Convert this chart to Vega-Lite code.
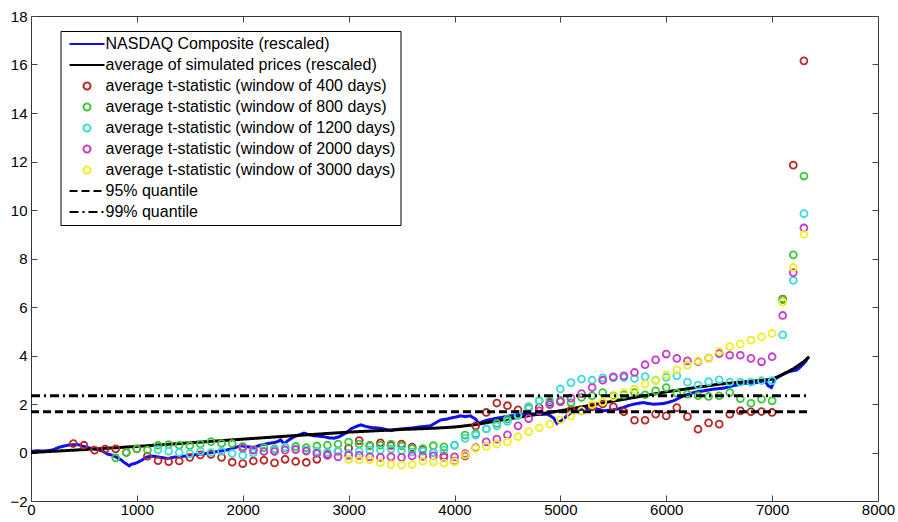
{
  "$schema": "https://vega.github.io/schema/vega-lite/v6.json",
  "width": 847,
  "height": 485,
  "autosize": {"type": "none"},
  "padding": {"left": 31, "top": 16, "right": 20, "bottom": 21},
  "background": "white",
  "config": {
    "font": "Liberation Sans",
    "view": {"stroke": "#333", "strokeWidth": 1},
    "axis": {"domain": false, "grid": false, "tickSize": -6, "tickColor": "#444", "labelFontSize": 15, "labelColor": "#000", "labelFont": "Liberation Sans"},
    "legend": {"labelFont": "Liberation Sans", "labelFontSize": 16, "labelColor": "#000", "labelLimit": 0, "symbolSize": 49, "symbolStrokeWidth": 2, "rowPadding": 5, "padding": 5, "strokeColor": "#000", "fillColor": "white", "symbolOffset": 13.5, "labelOffset": 10.5}
  },
  "datasets": {
    "lines": [
      {"series": "NASDAQ Composite (rescaled)", "day": 0, "value": 0.05},
      {"series": "NASDAQ Composite (rescaled)", "day": 60, "value": 0.07},
      {"series": "NASDAQ Composite (rescaled)", "day": 125, "value": 0.06},
      {"series": "NASDAQ Composite (rescaled)", "day": 200, "value": 0.1},
      {"series": "NASDAQ Composite (rescaled)", "day": 267, "value": 0.22},
      {"series": "NASDAQ Composite (rescaled)", "day": 300, "value": 0.25},
      {"series": "NASDAQ Composite (rescaled)", "day": 346, "value": 0.3},
      {"series": "NASDAQ Composite (rescaled)", "day": 400, "value": 0.32},
      {"series": "NASDAQ Composite (rescaled)", "day": 440, "value": 0.33},
      {"series": "NASDAQ Composite (rescaled)", "day": 500, "value": 0.25},
      {"series": "NASDAQ Composite (rescaled)", "day": 535, "value": 0.2},
      {"series": "NASDAQ Composite (rescaled)", "day": 600, "value": 0.15},
      {"series": "NASDAQ Composite (rescaled)", "day": 630, "value": 0.12},
      {"series": "NASDAQ Composite (rescaled)", "day": 680, "value": 0.05},
      {"series": "NASDAQ Composite (rescaled)", "day": 723, "value": -0.07},
      {"series": "NASDAQ Composite (rescaled)", "day": 760, "value": -0.1},
      {"series": "NASDAQ Composite (rescaled)", "day": 800, "value": -0.18},
      {"series": "NASDAQ Composite (rescaled)", "day": 850, "value": -0.3},
      {"series": "NASDAQ Composite (rescaled)", "day": 880, "value": -0.41},
      {"series": "NASDAQ Composite (rescaled)", "day": 928, "value": -0.55},
      {"series": "NASDAQ Composite (rescaled)", "day": 950, "value": -0.48},
      {"series": "NASDAQ Composite (rescaled)", "day": 975, "value": -0.46},
      {"series": "NASDAQ Composite (rescaled)", "day": 1000, "value": -0.42},
      {"series": "NASDAQ Composite (rescaled)", "day": 1038, "value": -0.34},
      {"series": "NASDAQ Composite (rescaled)", "day": 1070, "value": -0.25},
      {"series": "NASDAQ Composite (rescaled)", "day": 1100, "value": -0.18},
      {"series": "NASDAQ Composite (rescaled)", "day": 1150, "value": -0.15},
      {"series": "NASDAQ Composite (rescaled)", "day": 1195, "value": -0.18},
      {"series": "NASDAQ Composite (rescaled)", "day": 1250, "value": -0.22},
      {"series": "NASDAQ Composite (rescaled)", "day": 1290, "value": -0.25},
      {"series": "NASDAQ Composite (rescaled)", "day": 1340, "value": -0.2},
      {"series": "NASDAQ Composite (rescaled)", "day": 1384, "value": -0.18},
      {"series": "NASDAQ Composite (rescaled)", "day": 1430, "value": -0.16},
      {"series": "NASDAQ Composite (rescaled)", "day": 1478, "value": -0.14},
      {"series": "NASDAQ Composite (rescaled)", "day": 1540, "value": -0.1},
      {"series": "NASDAQ Composite (rescaled)", "day": 1604, "value": -0.07},
      {"series": "NASDAQ Composite (rescaled)", "day": 1680, "value": -0.02},
      {"series": "NASDAQ Composite (rescaled)", "day": 1761, "value": 0.04},
      {"series": "NASDAQ Composite (rescaled)", "day": 1820, "value": 0.08},
      {"series": "NASDAQ Composite (rescaled)", "day": 1887, "value": 0.14},
      {"series": "NASDAQ Composite (rescaled)", "day": 1940, "value": 0.22},
      {"series": "NASDAQ Composite (rescaled)", "day": 1981, "value": 0.28},
      {"series": "NASDAQ Composite (rescaled)", "day": 2040, "value": 0.24},
      {"series": "NASDAQ Composite (rescaled)", "day": 2107, "value": 0.2},
      {"series": "NASDAQ Composite (rescaled)", "day": 2150, "value": 0.28},
      {"series": "NASDAQ Composite (rescaled)", "day": 2201, "value": 0.34},
      {"series": "NASDAQ Composite (rescaled)", "day": 2250, "value": 0.38},
      {"series": "NASDAQ Composite (rescaled)", "day": 2296, "value": 0.41},
      {"series": "NASDAQ Composite (rescaled)", "day": 2330, "value": 0.45},
      {"series": "NASDAQ Composite (rescaled)", "day": 2358, "value": 0.52},
      {"series": "NASDAQ Composite (rescaled)", "day": 2390, "value": 0.36},
      {"series": "NASDAQ Composite (rescaled)", "day": 2430, "value": 0.5},
      {"series": "NASDAQ Composite (rescaled)", "day": 2484, "value": 0.65},
      {"series": "NASDAQ Composite (rescaled)", "day": 2530, "value": 0.72},
      {"series": "NASDAQ Composite (rescaled)", "day": 2579, "value": 0.8},
      {"series": "NASDAQ Composite (rescaled)", "day": 2620, "value": 0.74},
      {"series": "NASDAQ Composite (rescaled)", "day": 2673, "value": 0.69},
      {"series": "NASDAQ Composite (rescaled)", "day": 2720, "value": 0.67},
      {"series": "NASDAQ Composite (rescaled)", "day": 2767, "value": 0.65},
      {"series": "NASDAQ Composite (rescaled)", "day": 2820, "value": 0.6},
      {"series": "NASDAQ Composite (rescaled)", "day": 2862, "value": 0.59},
      {"series": "NASDAQ Composite (rescaled)", "day": 2910, "value": 0.65},
      {"series": "NASDAQ Composite (rescaled)", "day": 2956, "value": 0.76},
      {"series": "NASDAQ Composite (rescaled)", "day": 2990, "value": 0.85},
      {"series": "NASDAQ Composite (rescaled)", "day": 3019, "value": 0.97},
      {"series": "NASDAQ Composite (rescaled)", "day": 3060, "value": 1.05},
      {"series": "NASDAQ Composite (rescaled)", "day": 3113, "value": 1.14},
      {"series": "NASDAQ Composite (rescaled)", "day": 3160, "value": 1.08},
      {"series": "NASDAQ Composite (rescaled)", "day": 3208, "value": 1.03},
      {"series": "NASDAQ Composite (rescaled)", "day": 3250, "value": 1.02},
      {"series": "NASDAQ Composite (rescaled)", "day": 3302, "value": 1.0},
      {"series": "NASDAQ Composite (rescaled)", "day": 3350, "value": 0.95},
      {"series": "NASDAQ Composite (rescaled)", "day": 3396, "value": 0.9},
      {"series": "NASDAQ Composite (rescaled)", "day": 3440, "value": 0.94},
      {"series": "NASDAQ Composite (rescaled)", "day": 3491, "value": 0.97},
      {"series": "NASDAQ Composite (rescaled)", "day": 3540, "value": 0.99},
      {"series": "NASDAQ Composite (rescaled)", "day": 3585, "value": 1.0},
      {"series": "NASDAQ Composite (rescaled)", "day": 3630, "value": 1.03},
      {"series": "NASDAQ Composite (rescaled)", "day": 3679, "value": 1.06},
      {"series": "NASDAQ Composite (rescaled)", "day": 3730, "value": 1.08},
      {"series": "NASDAQ Composite (rescaled)", "day": 3774, "value": 1.1},
      {"series": "NASDAQ Composite (rescaled)", "day": 3820, "value": 1.22},
      {"series": "NASDAQ Composite (rescaled)", "day": 3868, "value": 1.34},
      {"series": "NASDAQ Composite (rescaled)", "day": 3931, "value": 1.38},
      {"series": "NASDAQ Composite (rescaled)", "day": 3962, "value": 1.42},
      {"series": "NASDAQ Composite (rescaled)", "day": 4000, "value": 1.45},
      {"series": "NASDAQ Composite (rescaled)", "day": 4057, "value": 1.51},
      {"series": "NASDAQ Composite (rescaled)", "day": 4100, "value": 1.48},
      {"series": "NASDAQ Composite (rescaled)", "day": 4151, "value": 1.51},
      {"series": "NASDAQ Composite (rescaled)", "day": 4198, "value": 1.38},
      {"series": "NASDAQ Composite (rescaled)", "day": 4230, "value": 1.2},
      {"series": "NASDAQ Composite (rescaled)", "day": 4270, "value": 1.28},
      {"series": "NASDAQ Composite (rescaled)", "day": 4308, "value": 1.33},
      {"series": "NASDAQ Composite (rescaled)", "day": 4350, "value": 1.37},
      {"series": "NASDAQ Composite (rescaled)", "day": 4402, "value": 1.42},
      {"series": "NASDAQ Composite (rescaled)", "day": 4450, "value": 1.45},
      {"series": "NASDAQ Composite (rescaled)", "day": 4496, "value": 1.49},
      {"series": "NASDAQ Composite (rescaled)", "day": 4540, "value": 1.52},
      {"series": "NASDAQ Composite (rescaled)", "day": 4591, "value": 1.55},
      {"series": "NASDAQ Composite (rescaled)", "day": 4640, "value": 1.58},
      {"series": "NASDAQ Composite (rescaled)", "day": 4685, "value": 1.61},
      {"series": "NASDAQ Composite (rescaled)", "day": 4730, "value": 1.6},
      {"series": "NASDAQ Composite (rescaled)", "day": 4779, "value": 1.58},
      {"series": "NASDAQ Composite (rescaled)", "day": 4830, "value": 1.57},
      {"series": "NASDAQ Composite (rescaled)", "day": 4873, "value": 1.58},
      {"series": "NASDAQ Composite (rescaled)", "day": 4910, "value": 1.5},
      {"series": "NASDAQ Composite (rescaled)", "day": 4936, "value": 1.42},
      {"series": "NASDAQ Composite (rescaled)", "day": 4968, "value": 1.2},
      {"series": "NASDAQ Composite (rescaled)", "day": 5015, "value": 1.33},
      {"series": "NASDAQ Composite (rescaled)", "day": 5062, "value": 1.51},
      {"series": "NASDAQ Composite (rescaled)", "day": 5100, "value": 1.65},
      {"series": "NASDAQ Composite (rescaled)", "day": 5125, "value": 1.72},
      {"series": "NASDAQ Composite (rescaled)", "day": 5170, "value": 1.76},
      {"series": "NASDAQ Composite (rescaled)", "day": 5219, "value": 1.79},
      {"series": "NASDAQ Composite (rescaled)", "day": 5260, "value": 1.81},
      {"series": "NASDAQ Composite (rescaled)", "day": 5313, "value": 1.83},
      {"series": "NASDAQ Composite (rescaled)", "day": 5360, "value": 1.78},
      {"series": "NASDAQ Composite (rescaled)", "day": 5407, "value": 1.72},
      {"series": "NASDAQ Composite (rescaled)", "day": 5450, "value": 1.74},
      {"series": "NASDAQ Composite (rescaled)", "day": 5502, "value": 1.76},
      {"series": "NASDAQ Composite (rescaled)", "day": 5550, "value": 1.8},
      {"series": "NASDAQ Composite (rescaled)", "day": 5596, "value": 1.86},
      {"series": "NASDAQ Composite (rescaled)", "day": 5640, "value": 1.93},
      {"series": "NASDAQ Composite (rescaled)", "day": 5690, "value": 1.99},
      {"series": "NASDAQ Composite (rescaled)", "day": 5740, "value": 2.03},
      {"series": "NASDAQ Composite (rescaled)", "day": 5785, "value": 2.06},
      {"series": "NASDAQ Composite (rescaled)", "day": 5830, "value": 2.02},
      {"series": "NASDAQ Composite (rescaled)", "day": 5879, "value": 1.99},
      {"series": "NASDAQ Composite (rescaled)", "day": 5920, "value": 2.0},
      {"series": "NASDAQ Composite (rescaled)", "day": 5973, "value": 2.02},
      {"series": "NASDAQ Composite (rescaled)", "day": 6020, "value": 2.07},
      {"series": "NASDAQ Composite (rescaled)", "day": 6067, "value": 2.13},
      {"series": "NASDAQ Composite (rescaled)", "day": 6110, "value": 2.22},
      {"series": "NASDAQ Composite (rescaled)", "day": 6162, "value": 2.34},
      {"series": "NASDAQ Composite (rescaled)", "day": 6210, "value": 2.4},
      {"series": "NASDAQ Composite (rescaled)", "day": 6256, "value": 2.47},
      {"series": "NASDAQ Composite (rescaled)", "day": 6300, "value": 2.51},
      {"series": "NASDAQ Composite (rescaled)", "day": 6350, "value": 2.54},
      {"series": "NASDAQ Composite (rescaled)", "day": 6400, "value": 2.58},
      {"series": "NASDAQ Composite (rescaled)", "day": 6444, "value": 2.61},
      {"series": "NASDAQ Composite (rescaled)", "day": 6490, "value": 2.63},
      {"series": "NASDAQ Composite (rescaled)", "day": 6538, "value": 2.65},
      {"series": "NASDAQ Composite (rescaled)", "day": 6590, "value": 2.7},
      {"series": "NASDAQ Composite (rescaled)", "day": 6633, "value": 2.75},
      {"series": "NASDAQ Composite (rescaled)", "day": 6680, "value": 2.8},
      {"series": "NASDAQ Composite (rescaled)", "day": 6727, "value": 2.85},
      {"series": "NASDAQ Composite (rescaled)", "day": 6770, "value": 2.86},
      {"series": "NASDAQ Composite (rescaled)", "day": 6821, "value": 2.86},
      {"series": "NASDAQ Composite (rescaled)", "day": 6870, "value": 2.9},
      {"series": "NASDAQ Composite (rescaled)", "day": 6915, "value": 2.96},
      {"series": "NASDAQ Composite (rescaled)", "day": 6940, "value": 2.9},
      {"series": "NASDAQ Composite (rescaled)", "day": 6962, "value": 2.75},
      {"series": "NASDAQ Composite (rescaled)", "day": 6994, "value": 2.68},
      {"series": "NASDAQ Composite (rescaled)", "day": 7025, "value": 3.02},
      {"series": "NASDAQ Composite (rescaled)", "day": 7060, "value": 3.12},
      {"series": "NASDAQ Composite (rescaled)", "day": 7104, "value": 3.23},
      {"series": "NASDAQ Composite (rescaled)", "day": 7140, "value": 3.3},
      {"series": "NASDAQ Composite (rescaled)", "day": 7167, "value": 3.34},
      {"series": "NASDAQ Composite (rescaled)", "day": 7200, "value": 3.37},
      {"series": "NASDAQ Composite (rescaled)", "day": 7230, "value": 3.4},
      {"series": "NASDAQ Composite (rescaled)", "day": 7260, "value": 3.5},
      {"series": "NASDAQ Composite (rescaled)", "day": 7293, "value": 3.64},
      {"series": "NASDAQ Composite (rescaled)", "day": 7320, "value": 3.78},
      {"series": "NASDAQ Composite (rescaled)", "day": 7340, "value": 3.92},
      {"series": "average of simulated prices (rescaled)", "day": 0, "value": 0.0},
      {"series": "average of simulated prices (rescaled)", "day": 500, "value": 0.12},
      {"series": "average of simulated prices (rescaled)", "day": 1000, "value": 0.25},
      {"series": "average of simulated prices (rescaled)", "day": 1500, "value": 0.4},
      {"series": "average of simulated prices (rescaled)", "day": 2000, "value": 0.55},
      {"series": "average of simulated prices (rescaled)", "day": 2500, "value": 0.7},
      {"series": "average of simulated prices (rescaled)", "day": 3000, "value": 0.84},
      {"series": "average of simulated prices (rescaled)", "day": 3500, "value": 0.95},
      {"series": "average of simulated prices (rescaled)", "day": 3800, "value": 1.0},
      {"series": "average of simulated prices (rescaled)", "day": 4000, "value": 1.05},
      {"series": "average of simulated prices (rescaled)", "day": 4200, "value": 1.15},
      {"series": "average of simulated prices (rescaled)", "day": 4500, "value": 1.38},
      {"series": "average of simulated prices (rescaled)", "day": 5000, "value": 1.72},
      {"series": "average of simulated prices (rescaled)", "day": 5500, "value": 2.12},
      {"series": "average of simulated prices (rescaled)", "day": 6000, "value": 2.5},
      {"series": "average of simulated prices (rescaled)", "day": 6500, "value": 2.82},
      {"series": "average of simulated prices (rescaled)", "day": 7000, "value": 3.02},
      {"series": "average of simulated prices (rescaled)", "day": 7100, "value": 3.22},
      {"series": "average of simulated prices (rescaled)", "day": 7200, "value": 3.45},
      {"series": "average of simulated prices (rescaled)", "day": 7300, "value": 3.75},
      {"series": "average of simulated prices (rescaled)", "day": 7350, "value": 3.95}
    ],
    "quant": [
      {"series": "95% quantile", "day": 0, "value": 1.68},
      {"series": "95% quantile", "day": 7330, "value": 1.68},
      {"series": "99% quantile", "day": 0, "value": 2.34},
      {"series": "99% quantile", "day": 7330, "value": 2.34}
    ],
    "tstats": [
      {"series": "average t-statistic (window of 400 days)", "day": 400, "value": 0.37},
      {"series": "average t-statistic (window of 400 days)", "day": 500, "value": 0.3},
      {"series": "average t-statistic (window of 400 days)", "day": 600, "value": 0.1},
      {"series": "average t-statistic (window of 400 days)", "day": 700, "value": 0.14},
      {"series": "average t-statistic (window of 400 days)", "day": 800, "value": 0.15},
      {"series": "average t-statistic (window of 400 days)", "day": 900, "value": 0.0},
      {"series": "average t-statistic (window of 400 days)", "day": 1000, "value": 0.15},
      {"series": "average t-statistic (window of 400 days)", "day": 1100, "value": -0.15},
      {"series": "average t-statistic (window of 400 days)", "day": 1200, "value": -0.34},
      {"series": "average t-statistic (window of 400 days)", "day": 1300, "value": -0.38},
      {"series": "average t-statistic (window of 400 days)", "day": 1400, "value": -0.35},
      {"series": "average t-statistic (window of 400 days)", "day": 1500, "value": -0.2},
      {"series": "average t-statistic (window of 400 days)", "day": 1600, "value": -0.1},
      {"series": "average t-statistic (window of 400 days)", "day": 1700, "value": -0.08},
      {"series": "average t-statistic (window of 400 days)", "day": 1800, "value": -0.2},
      {"series": "average t-statistic (window of 400 days)", "day": 1900, "value": -0.4},
      {"series": "average t-statistic (window of 400 days)", "day": 2000, "value": -0.46},
      {"series": "average t-statistic (window of 400 days)", "day": 2100, "value": -0.35},
      {"series": "average t-statistic (window of 400 days)", "day": 2200, "value": -0.32},
      {"series": "average t-statistic (window of 400 days)", "day": 2300, "value": -0.43},
      {"series": "average t-statistic (window of 400 days)", "day": 2400, "value": -0.28},
      {"series": "average t-statistic (window of 400 days)", "day": 2500, "value": -0.37},
      {"series": "average t-statistic (window of 400 days)", "day": 2600, "value": -0.41},
      {"series": "average t-statistic (window of 400 days)", "day": 2700, "value": -0.28},
      {"series": "average t-statistic (window of 400 days)", "day": 2800, "value": -0.08},
      {"series": "average t-statistic (window of 400 days)", "day": 2900, "value": 0.05},
      {"series": "average t-statistic (window of 400 days)", "day": 3000, "value": 0.18},
      {"series": "average t-statistic (window of 400 days)", "day": 3100, "value": 0.49},
      {"series": "average t-statistic (window of 400 days)", "day": 3200, "value": 0.29},
      {"series": "average t-statistic (window of 400 days)", "day": 3300, "value": 0.4},
      {"series": "average t-statistic (window of 400 days)", "day": 3400, "value": 0.29},
      {"series": "average t-statistic (window of 400 days)", "day": 3500, "value": 0.35},
      {"series": "average t-statistic (window of 400 days)", "day": 3600, "value": 0.22},
      {"series": "average t-statistic (window of 400 days)", "day": 3700, "value": 0.1},
      {"series": "average t-statistic (window of 400 days)", "day": 3800, "value": 0.0},
      {"series": "average t-statistic (window of 400 days)", "day": 3900, "value": -0.14},
      {"series": "average t-statistic (window of 400 days)", "day": 4000, "value": -0.36},
      {"series": "average t-statistic (window of 400 days)", "day": 4100, "value": -0.14},
      {"series": "average t-statistic (window of 400 days)", "day": 4200, "value": 1.1},
      {"series": "average t-statistic (window of 400 days)", "day": 4300, "value": 1.65},
      {"series": "average t-statistic (window of 400 days)", "day": 4400, "value": 2.04},
      {"series": "average t-statistic (window of 400 days)", "day": 4500, "value": 1.93},
      {"series": "average t-statistic (window of 400 days)", "day": 4600, "value": 1.76},
      {"series": "average t-statistic (window of 400 days)", "day": 4700, "value": 1.88},
      {"series": "average t-statistic (window of 400 days)", "day": 4800, "value": 1.85},
      {"series": "average t-statistic (window of 400 days)", "day": 4900, "value": 2.07},
      {"series": "average t-statistic (window of 400 days)", "day": 5000, "value": 2.1},
      {"series": "average t-statistic (window of 400 days)", "day": 5100, "value": 1.76},
      {"series": "average t-statistic (window of 400 days)", "day": 5200, "value": 1.72},
      {"series": "average t-statistic (window of 400 days)", "day": 5300, "value": 1.88},
      {"series": "average t-statistic (window of 400 days)", "day": 5400, "value": 2.0},
      {"series": "average t-statistic (window of 400 days)", "day": 5500, "value": 1.88},
      {"series": "average t-statistic (window of 400 days)", "day": 5600, "value": 1.68},
      {"series": "average t-statistic (window of 400 days)", "day": 5700, "value": 1.33},
      {"series": "average t-statistic (window of 400 days)", "day": 5800, "value": 1.33},
      {"series": "average t-statistic (window of 400 days)", "day": 5900, "value": 1.58},
      {"series": "average t-statistic (window of 400 days)", "day": 6000, "value": 1.51},
      {"series": "average t-statistic (window of 400 days)", "day": 6100, "value": 1.85},
      {"series": "average t-statistic (window of 400 days)", "day": 6200, "value": 1.48},
      {"series": "average t-statistic (window of 400 days)", "day": 6300, "value": 0.96},
      {"series": "average t-statistic (window of 400 days)", "day": 6400, "value": 1.22},
      {"series": "average t-statistic (window of 400 days)", "day": 6500, "value": 1.17},
      {"series": "average t-statistic (window of 400 days)", "day": 6600, "value": 1.58},
      {"series": "average t-statistic (window of 400 days)", "day": 6700, "value": 1.72},
      {"series": "average t-statistic (window of 400 days)", "day": 6800, "value": 1.68},
      {"series": "average t-statistic (window of 400 days)", "day": 6900, "value": 1.69},
      {"series": "average t-statistic (window of 400 days)", "day": 7000, "value": 1.65},
      {"series": "average t-statistic (window of 400 days)", "day": 7100, "value": 6.33},
      {"series": "average t-statistic (window of 400 days)", "day": 7200, "value": 11.85},
      {"series": "average t-statistic (window of 400 days)", "day": 7300, "value": 16.15},
      {"series": "average t-statistic (window of 800 days)", "day": 800, "value": -0.22},
      {"series": "average t-statistic (window of 800 days)", "day": 900, "value": 0.0},
      {"series": "average t-statistic (window of 800 days)", "day": 1000, "value": 0.15},
      {"series": "average t-statistic (window of 800 days)", "day": 1100, "value": 0.1},
      {"series": "average t-statistic (window of 800 days)", "day": 1200, "value": 0.3},
      {"series": "average t-statistic (window of 800 days)", "day": 1300, "value": 0.33},
      {"series": "average t-statistic (window of 800 days)", "day": 1400, "value": 0.3},
      {"series": "average t-statistic (window of 800 days)", "day": 1500, "value": 0.28},
      {"series": "average t-statistic (window of 800 days)", "day": 1600, "value": 0.35},
      {"series": "average t-statistic (window of 800 days)", "day": 1700, "value": 0.45},
      {"series": "average t-statistic (window of 800 days)", "day": 1800, "value": 0.37},
      {"series": "average t-statistic (window of 800 days)", "day": 1900, "value": 0.37},
      {"series": "average t-statistic (window of 800 days)", "day": 2000, "value": 0.25},
      {"series": "average t-statistic (window of 800 days)", "day": 2100, "value": 0.12},
      {"series": "average t-statistic (window of 800 days)", "day": 2200, "value": 0.2},
      {"series": "average t-statistic (window of 800 days)", "day": 2300, "value": 0.15},
      {"series": "average t-statistic (window of 800 days)", "day": 2400, "value": 0.2},
      {"series": "average t-statistic (window of 800 days)", "day": 2500, "value": 0.25},
      {"series": "average t-statistic (window of 800 days)", "day": 2600, "value": 0.2},
      {"series": "average t-statistic (window of 800 days)", "day": 2700, "value": 0.27},
      {"series": "average t-statistic (window of 800 days)", "day": 2800, "value": 0.3},
      {"series": "average t-statistic (window of 800 days)", "day": 2900, "value": 0.35},
      {"series": "average t-statistic (window of 800 days)", "day": 3000, "value": 0.43},
      {"series": "average t-statistic (window of 800 days)", "day": 3100, "value": 0.35},
      {"series": "average t-statistic (window of 800 days)", "day": 3200, "value": 0.27},
      {"series": "average t-statistic (window of 800 days)", "day": 3300, "value": 0.3},
      {"series": "average t-statistic (window of 800 days)", "day": 3400, "value": 0.35},
      {"series": "average t-statistic (window of 800 days)", "day": 3500, "value": 0.27},
      {"series": "average t-statistic (window of 800 days)", "day": 3600, "value": 0.16},
      {"series": "average t-statistic (window of 800 days)", "day": 3700, "value": 0.16},
      {"series": "average t-statistic (window of 800 days)", "day": 3800, "value": 0.28},
      {"series": "average t-statistic (window of 800 days)", "day": 3900, "value": 0.23},
      {"series": "average t-statistic (window of 800 days)", "day": 4000, "value": 0.3},
      {"series": "average t-statistic (window of 800 days)", "day": 4100, "value": 0.72},
      {"series": "average t-statistic (window of 800 days)", "day": 4200, "value": 0.78},
      {"series": "average t-statistic (window of 800 days)", "day": 4300, "value": 0.97},
      {"series": "average t-statistic (window of 800 days)", "day": 4400, "value": 1.2},
      {"series": "average t-statistic (window of 800 days)", "day": 4500, "value": 1.38},
      {"series": "average t-statistic (window of 800 days)", "day": 4600, "value": 1.56},
      {"series": "average t-statistic (window of 800 days)", "day": 4700, "value": 1.82},
      {"series": "average t-statistic (window of 800 days)", "day": 4800, "value": 2.14},
      {"series": "average t-statistic (window of 800 days)", "day": 4900, "value": 2.0},
      {"series": "average t-statistic (window of 800 days)", "day": 5000, "value": 2.15},
      {"series": "average t-statistic (window of 800 days)", "day": 5100, "value": 2.06},
      {"series": "average t-statistic (window of 800 days)", "day": 5200, "value": 2.27},
      {"series": "average t-statistic (window of 800 days)", "day": 5300, "value": 2.34},
      {"series": "average t-statistic (window of 800 days)", "day": 5400, "value": 2.47},
      {"series": "average t-statistic (window of 800 days)", "day": 5500, "value": 2.34},
      {"series": "average t-statistic (window of 800 days)", "day": 5600, "value": 2.38},
      {"series": "average t-statistic (window of 800 days)", "day": 5700, "value": 2.47},
      {"series": "average t-statistic (window of 800 days)", "day": 5800, "value": 2.38},
      {"series": "average t-statistic (window of 800 days)", "day": 5900, "value": 2.54},
      {"series": "average t-statistic (window of 800 days)", "day": 6000, "value": 2.68},
      {"series": "average t-statistic (window of 800 days)", "day": 6100, "value": 2.45},
      {"series": "average t-statistic (window of 800 days)", "day": 6200, "value": 2.41},
      {"series": "average t-statistic (window of 800 days)", "day": 6300, "value": 2.34},
      {"series": "average t-statistic (window of 800 days)", "day": 6400, "value": 2.31},
      {"series": "average t-statistic (window of 800 days)", "day": 6500, "value": 2.34},
      {"series": "average t-statistic (window of 800 days)", "day": 6600, "value": 2.47},
      {"series": "average t-statistic (window of 800 days)", "day": 6700, "value": 2.22},
      {"series": "average t-statistic (window of 800 days)", "day": 6800, "value": 2.03},
      {"series": "average t-statistic (window of 800 days)", "day": 6900, "value": 2.2},
      {"series": "average t-statistic (window of 800 days)", "day": 7000, "value": 2.13},
      {"series": "average t-statistic (window of 800 days)", "day": 7100, "value": 6.3},
      {"series": "average t-statistic (window of 800 days)", "day": 7200, "value": 8.15},
      {"series": "average t-statistic (window of 800 days)", "day": 7300, "value": 11.4},
      {"series": "average t-statistic (window of 1200 days)", "day": 1200, "value": 0.12},
      {"series": "average t-statistic (window of 1200 days)", "day": 1300, "value": 0.05},
      {"series": "average t-statistic (window of 1200 days)", "day": 1400, "value": 0.0},
      {"series": "average t-statistic (window of 1200 days)", "day": 1500, "value": -0.05},
      {"series": "average t-statistic (window of 1200 days)", "day": 1600, "value": 0.05},
      {"series": "average t-statistic (window of 1200 days)", "day": 1700, "value": 0.0},
      {"series": "average t-statistic (window of 1200 days)", "day": 1800, "value": 0.05},
      {"series": "average t-statistic (window of 1200 days)", "day": 1900, "value": -0.04},
      {"series": "average t-statistic (window of 1200 days)", "day": 2000, "value": -0.12},
      {"series": "average t-statistic (window of 1200 days)", "day": 2100, "value": -0.02},
      {"series": "average t-statistic (window of 1200 days)", "day": 2200, "value": 0.05},
      {"series": "average t-statistic (window of 1200 days)", "day": 2300, "value": 0.1},
      {"series": "average t-statistic (window of 1200 days)", "day": 2400, "value": 0.22},
      {"series": "average t-statistic (window of 1200 days)", "day": 2500, "value": 0.15},
      {"series": "average t-statistic (window of 1200 days)", "day": 2600, "value": 0.1},
      {"series": "average t-statistic (window of 1200 days)", "day": 2700, "value": 0.05},
      {"series": "average t-statistic (window of 1200 days)", "day": 2800, "value": 0.0},
      {"series": "average t-statistic (window of 1200 days)", "day": 2900, "value": 0.05},
      {"series": "average t-statistic (window of 1200 days)", "day": 3000, "value": -0.05},
      {"series": "average t-statistic (window of 1200 days)", "day": 3100, "value": 0.05},
      {"series": "average t-statistic (window of 1200 days)", "day": 3200, "value": 0.1},
      {"series": "average t-statistic (window of 1200 days)", "day": 3300, "value": 0.1},
      {"series": "average t-statistic (window of 1200 days)", "day": 3400, "value": 0.15},
      {"series": "average t-statistic (window of 1200 days)", "day": 3500, "value": 0.08},
      {"series": "average t-statistic (window of 1200 days)", "day": 3600, "value": 0.02},
      {"series": "average t-statistic (window of 1200 days)", "day": 3700, "value": 0.05},
      {"series": "average t-statistic (window of 1200 days)", "day": 3800, "value": 0.0},
      {"series": "average t-statistic (window of 1200 days)", "day": 3900, "value": 0.1},
      {"series": "average t-statistic (window of 1200 days)", "day": 4000, "value": 0.3},
      {"series": "average t-statistic (window of 1200 days)", "day": 4100, "value": 0.58},
      {"series": "average t-statistic (window of 1200 days)", "day": 4200, "value": 0.72},
      {"series": "average t-statistic (window of 1200 days)", "day": 4300, "value": 0.97},
      {"series": "average t-statistic (window of 1200 days)", "day": 4400, "value": 1.1},
      {"series": "average t-statistic (window of 1200 days)", "day": 4500, "value": 1.28},
      {"series": "average t-statistic (window of 1200 days)", "day": 4600, "value": 1.52},
      {"series": "average t-statistic (window of 1200 days)", "day": 4700, "value": 1.88},
      {"series": "average t-statistic (window of 1200 days)", "day": 4800, "value": 2.12},
      {"series": "average t-statistic (window of 1200 days)", "day": 4900, "value": 2.15},
      {"series": "average t-statistic (window of 1200 days)", "day": 5000, "value": 2.62},
      {"series": "average t-statistic (window of 1200 days)", "day": 5100, "value": 2.88},
      {"series": "average t-statistic (window of 1200 days)", "day": 5200, "value": 3.03},
      {"series": "average t-statistic (window of 1200 days)", "day": 5300, "value": 2.98},
      {"series": "average t-statistic (window of 1200 days)", "day": 5400, "value": 3.08},
      {"series": "average t-statistic (window of 1200 days)", "day": 5500, "value": 3.08},
      {"series": "average t-statistic (window of 1200 days)", "day": 5600, "value": 3.09},
      {"series": "average t-statistic (window of 1200 days)", "day": 5700, "value": 3.05},
      {"series": "average t-statistic (window of 1200 days)", "day": 5800, "value": 3.13},
      {"series": "average t-statistic (window of 1200 days)", "day": 5900, "value": 2.98},
      {"series": "average t-statistic (window of 1200 days)", "day": 6000, "value": 3.1},
      {"series": "average t-statistic (window of 1200 days)", "day": 6100, "value": 3.16},
      {"series": "average t-statistic (window of 1200 days)", "day": 6200, "value": 2.9},
      {"series": "average t-statistic (window of 1200 days)", "day": 6300, "value": 2.78},
      {"series": "average t-statistic (window of 1200 days)", "day": 6400, "value": 2.92},
      {"series": "average t-statistic (window of 1200 days)", "day": 6500, "value": 3.0},
      {"series": "average t-statistic (window of 1200 days)", "day": 6600, "value": 2.9},
      {"series": "average t-statistic (window of 1200 days)", "day": 6700, "value": 2.9},
      {"series": "average t-statistic (window of 1200 days)", "day": 6800, "value": 2.9},
      {"series": "average t-statistic (window of 1200 days)", "day": 6900, "value": 2.96},
      {"series": "average t-statistic (window of 1200 days)", "day": 7000, "value": 2.96},
      {"series": "average t-statistic (window of 1200 days)", "day": 7100, "value": 4.85},
      {"series": "average t-statistic (window of 1200 days)", "day": 7200, "value": 7.1},
      {"series": "average t-statistic (window of 1200 days)", "day": 7300, "value": 9.85},
      {"series": "average t-statistic (window of 2000 days)", "day": 2000, "value": 0.18},
      {"series": "average t-statistic (window of 2000 days)", "day": 2100, "value": 0.1},
      {"series": "average t-statistic (window of 2000 days)", "day": 2200, "value": 0.04},
      {"series": "average t-statistic (window of 2000 days)", "day": 2300, "value": 0.04},
      {"series": "average t-statistic (window of 2000 days)", "day": 2400, "value": 0.1},
      {"series": "average t-statistic (window of 2000 days)", "day": 2500, "value": 0.12},
      {"series": "average t-statistic (window of 2000 days)", "day": 2600, "value": 0.06},
      {"series": "average t-statistic (window of 2000 days)", "day": 2700, "value": -0.04},
      {"series": "average t-statistic (window of 2000 days)", "day": 2800, "value": -0.12},
      {"series": "average t-statistic (window of 2000 days)", "day": 2900, "value": -0.18},
      {"series": "average t-statistic (window of 2000 days)", "day": 3000, "value": -0.12},
      {"series": "average t-statistic (window of 2000 days)", "day": 3100, "value": -0.12},
      {"series": "average t-statistic (window of 2000 days)", "day": 3200, "value": -0.18},
      {"series": "average t-statistic (window of 2000 days)", "day": 3300, "value": -0.2},
      {"series": "average t-statistic (window of 2000 days)", "day": 3400, "value": -0.18},
      {"series": "average t-statistic (window of 2000 days)", "day": 3500, "value": -0.2},
      {"series": "average t-statistic (window of 2000 days)", "day": 3600, "value": -0.14},
      {"series": "average t-statistic (window of 2000 days)", "day": 3700, "value": -0.16},
      {"series": "average t-statistic (window of 2000 days)", "day": 3800, "value": -0.14},
      {"series": "average t-statistic (window of 2000 days)", "day": 3900, "value": -0.2},
      {"series": "average t-statistic (window of 2000 days)", "day": 4000, "value": -0.18},
      {"series": "average t-statistic (window of 2000 days)", "day": 4100, "value": -0.05},
      {"series": "average t-statistic (window of 2000 days)", "day": 4200, "value": 0.2},
      {"series": "average t-statistic (window of 2000 days)", "day": 4300, "value": 0.44},
      {"series": "average t-statistic (window of 2000 days)", "day": 4400, "value": 0.55},
      {"series": "average t-statistic (window of 2000 days)", "day": 4500, "value": 0.73},
      {"series": "average t-statistic (window of 2000 days)", "day": 4600, "value": 1.1},
      {"series": "average t-statistic (window of 2000 days)", "day": 4700, "value": 1.4},
      {"series": "average t-statistic (window of 2000 days)", "day": 4800, "value": 1.72},
      {"series": "average t-statistic (window of 2000 days)", "day": 4900, "value": 1.97},
      {"series": "average t-statistic (window of 2000 days)", "day": 5000, "value": 2.1},
      {"series": "average t-statistic (window of 2000 days)", "day": 5100, "value": 2.24},
      {"series": "average t-statistic (window of 2000 days)", "day": 5200, "value": 2.43},
      {"series": "average t-statistic (window of 2000 days)", "day": 5300, "value": 2.68},
      {"series": "average t-statistic (window of 2000 days)", "day": 5400, "value": 2.98},
      {"series": "average t-statistic (window of 2000 days)", "day": 5500, "value": 3.12},
      {"series": "average t-statistic (window of 2000 days)", "day": 5600, "value": 3.16},
      {"series": "average t-statistic (window of 2000 days)", "day": 5700, "value": 3.3},
      {"series": "average t-statistic (window of 2000 days)", "day": 5800, "value": 3.62},
      {"series": "average t-statistic (window of 2000 days)", "day": 5900, "value": 3.82},
      {"series": "average t-statistic (window of 2000 days)", "day": 6000, "value": 4.06},
      {"series": "average t-statistic (window of 2000 days)", "day": 6100, "value": 3.88},
      {"series": "average t-statistic (window of 2000 days)", "day": 6200, "value": 3.78},
      {"series": "average t-statistic (window of 2000 days)", "day": 6300, "value": 3.75},
      {"series": "average t-statistic (window of 2000 days)", "day": 6400, "value": 3.89},
      {"series": "average t-statistic (window of 2000 days)", "day": 6500, "value": 4.08},
      {"series": "average t-statistic (window of 2000 days)", "day": 6600, "value": 4.01},
      {"series": "average t-statistic (window of 2000 days)", "day": 6700, "value": 4.01},
      {"series": "average t-statistic (window of 2000 days)", "day": 6800, "value": 3.88},
      {"series": "average t-statistic (window of 2000 days)", "day": 6900, "value": 3.74},
      {"series": "average t-statistic (window of 2000 days)", "day": 7000, "value": 3.95},
      {"series": "average t-statistic (window of 2000 days)", "day": 7100, "value": 5.65},
      {"series": "average t-statistic (window of 2000 days)", "day": 7200, "value": 7.42},
      {"series": "average t-statistic (window of 2000 days)", "day": 7300, "value": 9.26},
      {"series": "average t-statistic (window of 3000 days)", "day": 3000, "value": -0.28},
      {"series": "average t-statistic (window of 3000 days)", "day": 3100, "value": -0.3},
      {"series": "average t-statistic (window of 3000 days)", "day": 3200, "value": -0.3},
      {"series": "average t-statistic (window of 3000 days)", "day": 3300, "value": -0.42},
      {"series": "average t-statistic (window of 3000 days)", "day": 3400, "value": -0.5},
      {"series": "average t-statistic (window of 3000 days)", "day": 3500, "value": -0.52},
      {"series": "average t-statistic (window of 3000 days)", "day": 3600, "value": -0.5},
      {"series": "average t-statistic (window of 3000 days)", "day": 3700, "value": -0.36},
      {"series": "average t-statistic (window of 3000 days)", "day": 3800, "value": -0.4},
      {"series": "average t-statistic (window of 3000 days)", "day": 3900, "value": -0.44},
      {"series": "average t-statistic (window of 3000 days)", "day": 4000, "value": -0.38},
      {"series": "average t-statistic (window of 3000 days)", "day": 4100, "value": -0.1},
      {"series": "average t-statistic (window of 3000 days)", "day": 4200, "value": 0.17},
      {"series": "average t-statistic (window of 3000 days)", "day": 4300, "value": 0.25},
      {"series": "average t-statistic (window of 3000 days)", "day": 4400, "value": 0.35},
      {"series": "average t-statistic (window of 3000 days)", "day": 4500, "value": 0.44},
      {"series": "average t-statistic (window of 3000 days)", "day": 4600, "value": 0.65},
      {"series": "average t-statistic (window of 3000 days)", "day": 4700, "value": 0.86},
      {"series": "average t-statistic (window of 3000 days)", "day": 4800, "value": 1.02},
      {"series": "average t-statistic (window of 3000 days)", "day": 4900, "value": 1.17},
      {"series": "average t-statistic (window of 3000 days)", "day": 5000, "value": 1.35},
      {"series": "average t-statistic (window of 3000 days)", "day": 5100, "value": 1.51},
      {"series": "average t-statistic (window of 3000 days)", "day": 5200, "value": 1.72},
      {"series": "average t-statistic (window of 3000 days)", "day": 5300, "value": 1.97},
      {"series": "average t-statistic (window of 3000 days)", "day": 5400, "value": 2.09},
      {"series": "average t-statistic (window of 3000 days)", "day": 5500, "value": 2.3},
      {"series": "average t-statistic (window of 3000 days)", "day": 5600, "value": 2.47},
      {"series": "average t-statistic (window of 3000 days)", "day": 5700, "value": 2.61},
      {"series": "average t-statistic (window of 3000 days)", "day": 5800, "value": 2.82},
      {"series": "average t-statistic (window of 3000 days)", "day": 5900, "value": 2.96},
      {"series": "average t-statistic (window of 3000 days)", "day": 6000, "value": 3.19},
      {"series": "average t-statistic (window of 3000 days)", "day": 6100, "value": 3.41},
      {"series": "average t-statistic (window of 3000 days)", "day": 6200, "value": 3.6},
      {"series": "average t-statistic (window of 3000 days)", "day": 6300, "value": 3.78},
      {"series": "average t-statistic (window of 3000 days)", "day": 6400, "value": 3.88},
      {"series": "average t-statistic (window of 3000 days)", "day": 6500, "value": 4.17},
      {"series": "average t-statistic (window of 3000 days)", "day": 6600, "value": 4.37},
      {"series": "average t-statistic (window of 3000 days)", "day": 6700, "value": 4.47},
      {"series": "average t-statistic (window of 3000 days)", "day": 6800, "value": 4.63},
      {"series": "average t-statistic (window of 3000 days)", "day": 6900, "value": 4.77},
      {"series": "average t-statistic (window of 3000 days)", "day": 7000, "value": 4.91},
      {"series": "average t-statistic (window of 3000 days)", "day": 7100, "value": 6.2},
      {"series": "average t-statistic (window of 3000 days)", "day": 7200, "value": 7.63},
      {"series": "average t-statistic (window of 3000 days)", "day": 7300, "value": 9.0}
    ]
  },
  "resolve": {"axis": {"x": "independent", "y": "independent"}},
  "layer": [
    {
      "data": {"name": "lines"},
      "mark": {"type": "line", "interpolate": "linear"},
      "encoding": {
        "x": {"field": "day", "type": "quantitative", "scale": {"domain": [0, 8000], "nice": false}, "axis": {"orient": "bottom", "title": null, "format": "d", "values": [0, 1000, 2000, 3000, 4000, 5000, 6000, 7000, 8000], "labelPadding": 7, "labelFlush": false}},
        "y": {"field": "value", "type": "quantitative", "scale": {"domain": [-2, 18], "nice": false, "zero": false}, "axis": {"orient": "left", "title": null, "values": [-2, 0, 2, 4, 6, 8, 10, 12, 14, 16, 18], "labelPadding": 10, "labelFlush": false}},
        "color": {"field": "series", "type": "nominal", "scale": {"domain": ["NASDAQ Composite (rescaled)", "average of simulated prices (rescaled)", "average t-statistic (window of 400 days)", "average t-statistic (window of 800 days)", "average t-statistic (window of 1200 days)", "average t-statistic (window of 2000 days)", "average t-statistic (window of 3000 days)", "95% quantile", "99% quantile"], "range": ["#1010e8", "#000000", "#b82828", "#3cc83c", "#3cdcdc", "#c83cc8", "#f0f020", "#000000", "#000000"]}, "legend": {"title": null, "orient": "none", "legendX": 29.5, "legendY": 15}},
        "strokeDash": {"field": "series", "type": "nominal", "scale": {"domain": ["NASDAQ Composite (rescaled)", "average of simulated prices (rescaled)", "average t-statistic (window of 400 days)", "average t-statistic (window of 800 days)", "average t-statistic (window of 1200 days)", "average t-statistic (window of 2000 days)", "average t-statistic (window of 3000 days)", "95% quantile", "99% quantile"], "range": [[1, 0], [1, 0], [1, 0], [1, 0], [1, 0], [1, 0], [1, 0], [8, 4], [9, 4, 2, 4]]}, "legend": {"title": null, "orient": "none", "legendX": 29.5, "legendY": 15}},
        "strokeWidth": {"field": "series", "type": "nominal", "scale": {"domain": ["NASDAQ Composite (rescaled)", "average of simulated prices (rescaled)", "95% quantile", "99% quantile"], "range": [3, 3, 1.5, 1.5]}, "legend": null}
      }
    },
    {
      "data": {"name": "tstats"},
      "mark": {"type": "point", "filled": false, "size": 48, "strokeWidth": 1.8, "opacity": 1},
      "encoding": {
        "x": {"field": "day", "type": "quantitative", "axis": null},
        "y": {"field": "value", "type": "quantitative", "axis": null},
        "color": {"field": "series", "type": "nominal"},
        "shape": {"field": "series", "type": "nominal", "scale": {"domain": ["NASDAQ Composite (rescaled)", "average of simulated prices (rescaled)", "average t-statistic (window of 400 days)", "average t-statistic (window of 800 days)", "average t-statistic (window of 1200 days)", "average t-statistic (window of 2000 days)", "average t-statistic (window of 3000 days)", "95% quantile", "99% quantile"], "range": ["M-5,0H5", "M-5,0H5", "circle", "circle", "circle", "circle", "circle", "M-5,0H5", "M-5,0H5"]}, "legend": {"title": null, "orient": "none", "legendX": 29.5, "legendY": 15}}
      }
    },
    {
      "data": {"name": "quant"},
      "mark": {"type": "line"},
      "encoding": {
        "x": {"field": "day", "type": "quantitative", "axis": {"orient": "top", "title": null, "labels": false, "values": [0, 1000, 2000, 3000, 4000, 5000, 6000, 7000, 8000]}},
        "y": {"field": "value", "type": "quantitative", "axis": {"orient": "right", "title": null, "labels": false, "values": [-2, 0, 2, 4, 6, 8, 10, 12, 14, 16, 18]}},
        "color": {"field": "series", "type": "nominal"},
        "strokeDash": {"field": "series", "type": "nominal"},
        "strokeWidth": {"field": "series", "type": "nominal", "legend": null}
      }
    }
  ]
}
